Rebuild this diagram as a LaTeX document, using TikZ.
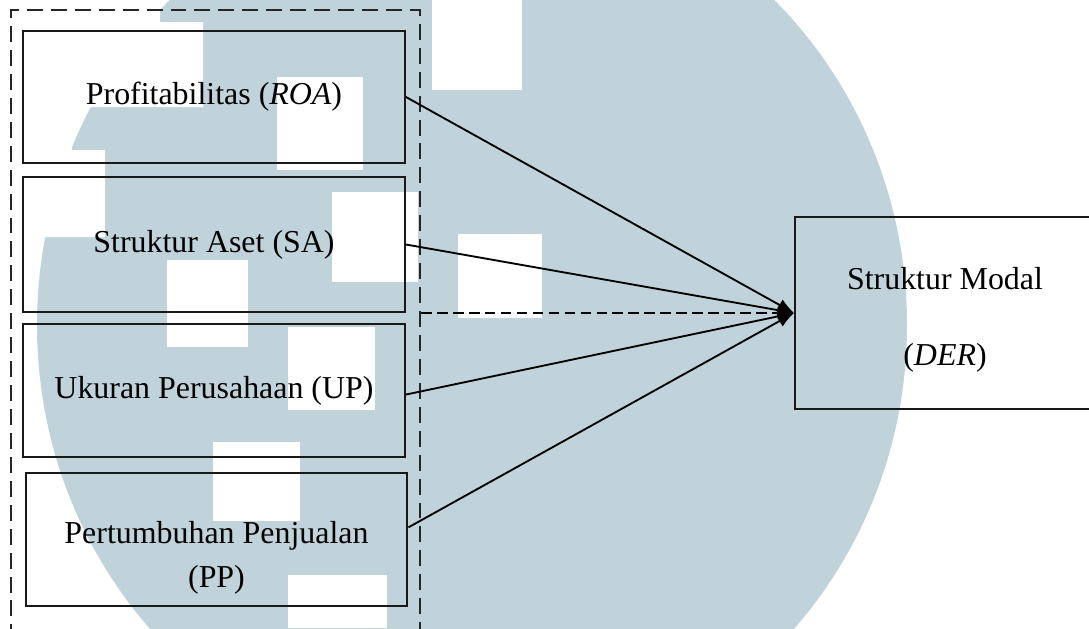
\documentclass[tikz,border=0pt]{standalone}
\usepackage{fontspec}
\setmainfont{Liberation Serif}
\usetikzlibrary{arrows.meta,calc,fit}
\definecolor{tandaair}{RGB}{193,211,218}
\begin{document}
\begin{tikzpicture}[x=0.376pt,y=-0.376pt]
			% Gaya (DAPAT DIUBAH)
			\tikzstyle{kotak}=[draw=black!90,line width=0.75pt,rectangle,inner sep=0pt,align=center,minimum width=\LebarKotak,minimum height=\TinggiKotak,font=\fontsize{12}{16.5}\selectfont]
			\tikzstyle{bingkai}=[draw=black!85,line width=0.75pt,dash pattern=on 6pt off 3pt,inner sep=0pt]
			\tikzstyle{panah}=[-{Latex[length=6.2pt,width=4.8pt]},line width=0.7pt]
			\tikzstyle{panahputus}=[panah,dash pattern=on 4pt off 2pt]
			% Ukuran (DAPAT DIUBAH)
			\def\LebarKotak{143.6pt}
			\def\TinggiKotak{50pt}
			\clip (0,0) rectangle (1089,628);
			% Latar (tanda air)
			\fill[white] (0,0) rectangle (1089,628);
			\fill[tandaair] (472,325) ellipse [x radius=435, y radius=452];
			\fill[white] (0,0) -- (160,0) -- (160,22) -- (203,22) -- (203,107) -- (72,107) -- (72,150) -- (105,150) -- (105,237) -- (0,237) -- cycle;
			\foreach \xa/\ya/\xb/\yb in {432/0/522/90, 277/77/363/170, 332/192/418/282, 458/234/542/318, 167/260/248/347, 288/327/375/410, 213/442/300/521, 288/575/387/628}
				\fill[white] (\xa,\ya) rectangle (\xb,\yb);
			% Kelompok variabel independen
			\node[bingkai,fit={(11,10) (420,660)}] (kelompok) {};
			% Kotak
			\node[kotak] (roa) at (214,97) {Profitabilitas (\textit{ROA})};
			\node[kotak,minimum height=50.8pt] (sa) at (214,244.5) {Struktur Aset (SA)};
			\node[kotak] (up) at (214,390.5) {Ukuran Perusahaan (UP)};
			\node[kotak] (pp) at (216.5,539.5) {\rule{0pt}{22pt}Pertumbuhan Penjualan\\(PP)};
			\node[kotak,minimum width=112.8pt,minimum height=72.2pt,font=\fontsize{12}{28.6}\selectfont] (der) at (945,313) {\rule{0pt}{13.5pt}Struktur Modal\\(\textit{DER})};
			% Panah
			\draw[panah] (roa.east) -- (der.west);
			\draw[panah] (sa.east) -- (der.west);
			\draw[panah] ($(up.north east)!0.53!(up.south east)$) -- (der.west);
			\draw[panah] ($(pp.north east)!0.41!(pp.south east)$) -- (der.west);
			\draw[panahputus] (kelompok.east |- der.west) -- (der.west);
		\end{tikzpicture}
\end{document}
